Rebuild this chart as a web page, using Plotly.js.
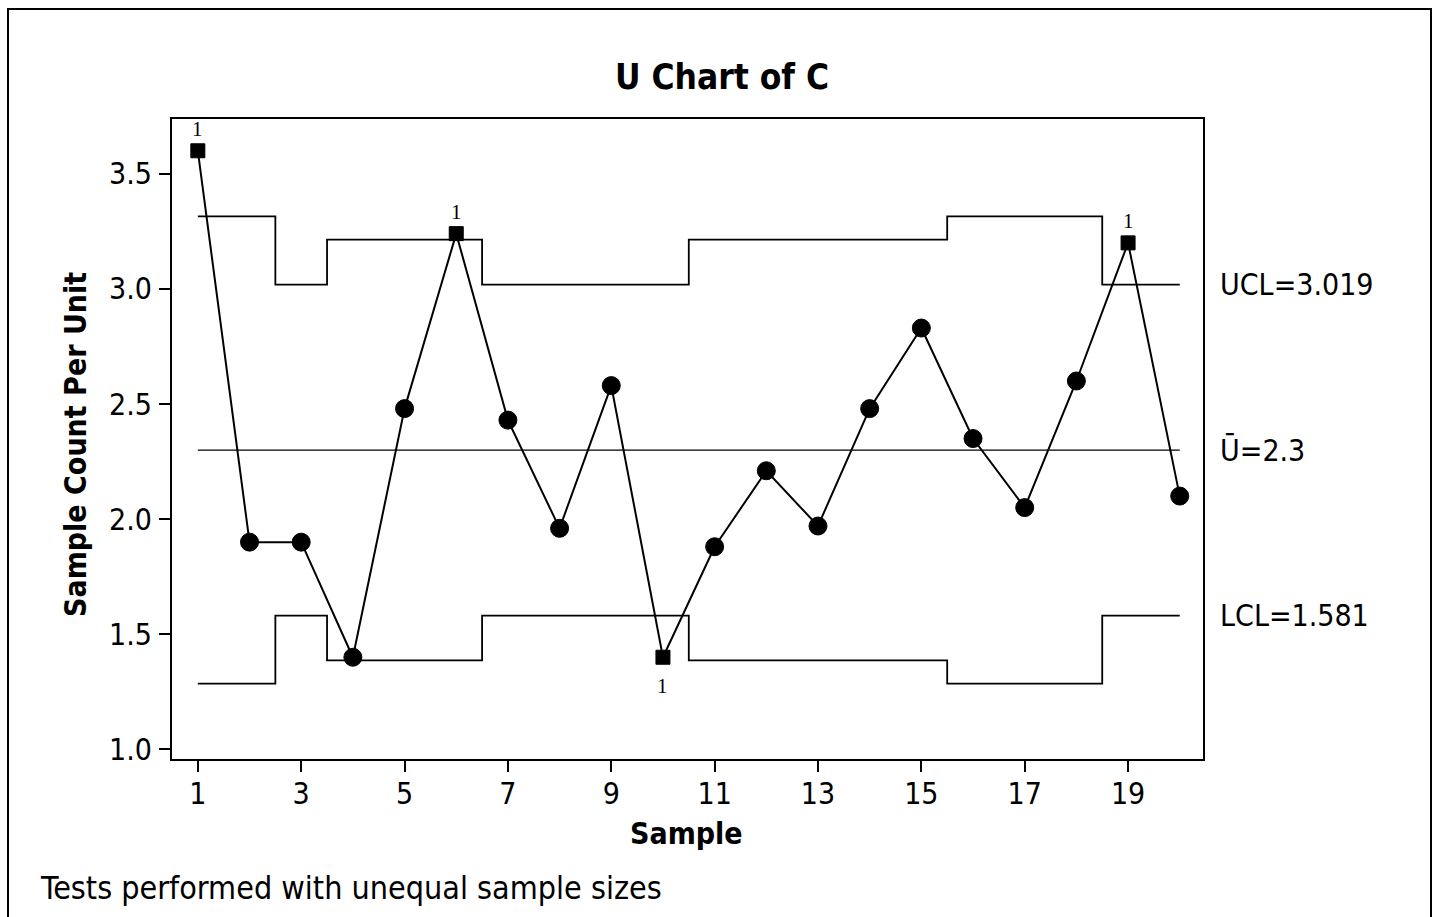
<!DOCTYPE html>
<html>
<head>
<meta charset="utf-8">
<script src="https://cdn.plot.ly/plotly-3.0.1.min.js"></script>
<style>html,body{margin:0;padding:0;background:#fff;}#chart{width:1434px;height:917px;}</style>
</head>
<body>
<div id="chart"></div>
<script>
// ---- data ----
const samples = [1,2,3,4,5,6,7,8,9,10,11,12,13,14,15,16,17,18,19,20];
const uValues = [3.60,1.90,1.90,1.40,2.48,3.24,2.43,1.96,2.58,1.40,1.88,2.21,1.97,2.48,2.83,2.35,2.05,2.60,3.20,2.10];
const uclValues = [3.315,3.315,3.019,3.214,3.214,3.214,3.019,3.019,3.019,3.019,3.214,3.214,3.214,3.214,3.214,3.315,3.315,3.315,3.019,3.019];
const lclValues = [1.285,1.285,1.581,1.386,1.386,1.386,1.581,1.581,1.581,1.581,1.386,1.386,1.386,1.386,1.386,1.285,1.285,1.285,1.581,1.581];
const centerValue = 2.3;
const flagged = [1,6,10,19];           // samples failing test 1
const flagBelow = [10];                // label drawn below the point
const xTicks = [1,3,5,7,9,11,13,15,17,19];
const yTicks = [1.0,1.5,2.0,2.5,3.0,3.5];
const limitLabels = ["UCL=3.019","\u016A=2.3","LCL=1.581"];
const limitLabelValues = [3.019, 2.3, 1.581];

// ---- chart ----
const W = 1434, H = 917;
const mL = 172, mR = 231, mT = 119, mB = 158;
const pw = W - mL - mR, ph = H - mT - mB;
const px = v => (v - mL) / pw;
const py = v => (H - mB - v) / ph;

const font = "DejaVu Sans Condensed, DejaVu Sans, sans-serif";
const serif = "Liberation Serif, Times New Roman, serif";
const FS = 30;

const symbols = samples.map(s => flagged.includes(s) ? 'square' : 'circle');
const sizes = samples.map(s => flagged.includes(s) ? 14 : 18);

const traces = [
  {x: samples, y: uclValues, mode: 'lines', line: {shape: 'hvh', color: '#000', width: 1.8}, hoverinfo: 'skip'},
  {x: samples, y: lclValues, mode: 'lines', line: {shape: 'hvh', color: '#000', width: 1.8}, hoverinfo: 'skip'},
  {x: [samples[0], samples[samples.length-1]], y: [centerValue, centerValue], mode: 'lines', line: {color: '#000', width: 1.3}, hoverinfo: 'skip'},
  {x: samples, y: uValues, mode: 'lines+markers', line: {color: '#000', width: 2},
   marker: {symbol: symbols, size: sizes, color: '#000', opacity: 1, line: {color: '#000', width: 1}}}
];

const annotations = [];
flagged.forEach(s => {
  const below = flagBelow.includes(s);
  annotations.push({x: s, y: uValues[s-1], xref: 'x', yref: 'y', text: '1', showarrow: false,
    yshift: below ? -29 : 22, font: {family: serif, size: 21, color: '#000'}});
});
limitLabels.forEach((t, i) => {
  annotations.push({x: px(1218), xref: 'paper', y: limitLabelValues[i], yref: 'y', text: t,
    xanchor: 'left', yanchor: 'middle', showarrow: false, font: {family: font, size: FS, color: '#000'}});
});
annotations.push({x: px(75), y: py(445), xref: 'paper', yref: 'paper', text: '<b>Sample Count Per Unit</b>',
  xanchor: 'center', yanchor: 'middle', textangle: -90, showarrow: false, font: {family: font, size: FS, color: '#000'}});
annotations.push({x: px(686), y: py(833), xref: 'paper', yref: 'paper', text: '<b>Sample</b>',
  xanchor: 'center', yanchor: 'middle', showarrow: false, font: {family: font, size: FS, color: '#000'}});
annotations.push({x: px(38), y: py(888), xref: 'paper', yref: 'paper', text: 'Tests performed with unequal sample sizes',
  xanchor: 'left', yanchor: 'middle', showarrow: false, font: {family: font, size: 32, color: '#000'}});

const layout = {
  width: W, height: H,
  margin: {l: mL, r: mR, t: mT, b: mB, pad: 0},
  paper_bgcolor: '#fff', plot_bgcolor: '#fff',
  showlegend: false,
  title: {text: '<b>U Chart of C</b>', x: 722/W, xanchor: 'center', xref: 'container',
          y: 1 - 77/H, yanchor: 'middle', yref: 'container', font: {family: font, size: 35, color: '#000'}},
  xaxis: {range: [0.5, 20.45], tickvals: xTicks, ticktext: xTicks.map(String), ticks: 'outside', ticklen: 11, tickwidth: 2,
          tickcolor: '#000', showline: true, linecolor: '#000', linewidth: 2, mirror: true, showgrid: false, zeroline: false,
          tickfont: {family: font, size: FS, color: '#000'}, ticklabelstandoff: -4},
  yaxis: {range: [0.958, 3.738], tickvals: yTicks, ticktext: yTicks.map(v => v.toFixed(1)), ticks: 'outside', ticklen: 11, tickwidth: 2,
          tickcolor: '#000', showline: true, linecolor: '#000', linewidth: 2, mirror: true, showgrid: false, zeroline: false,
          tickfont: {family: font, size: FS, color: '#000'}, ticklabelstandoff: 1},
  shapes: [{type: 'rect', xref: 'paper', yref: 'paper', x0: px(8), x1: px(1431), y0: py(930), y1: py(9),
            line: {color: '#000', width: 2}, fillcolor: 'rgba(0,0,0,0)'}],
  annotations: annotations
};

Plotly.newPlot('chart', traces, layout, {displayModeBar: false, staticPlot: true});
</script>
</body>
</html>
